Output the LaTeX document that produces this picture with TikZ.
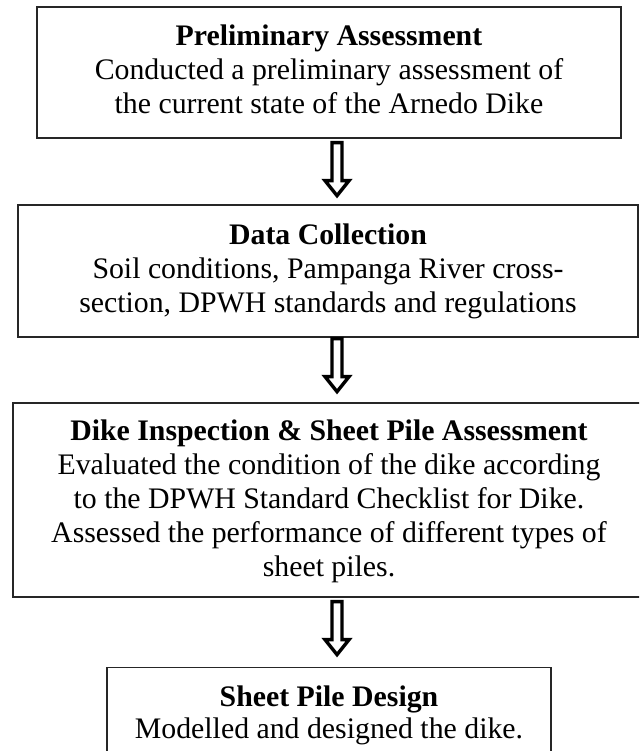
\documentclass[tikz,border=0pt]{standalone}
\usepackage{fontspec}
\setmainfont{Liberation Serif}
\usetikzlibrary{calc}
\tikzset{
  stagebox/.style={draw=black!85, line width=1.3pt, inner sep=0pt},
  stagetext/.style={align=center, inner sep=0pt,
    font=\fontsize{29.8}{34}\selectfont},
  pics/hollowdown/.style={code={
    \draw[line width=3.4pt, fill=white, line join=miter, miter limit=10]
      (-5,0) -- (-5,38) -- (-12,38) -- (0,53) -- (12,38) -- (5,38) -- (5,0) -- cycle;
  }}
}
\begin{document}
\begin{tikzpicture}[x=1pt,y=-1pt]
\useasboundingbox (0,0) rectangle (639,751);
\clip (0,0) rectangle (639,751);
\node[stagebox, minimum width=584pt, minimum height=131pt] (b1) at (329,72.5) {};
\node[stagetext] (t1) at ($(b1.center)+(0,-3)$)
  {\textbf{Preliminary Assessment}\\Conducted a preliminary assessment of\\the current state of the Arnedo Dike};
\node[stagebox, minimum width=620pt, minimum height=132pt] (b2) at (328,271) {};
\node[stagetext] (t2) at (b2.center)
  {\textbf{Data Collection}\\Soil conditions, Pampanga River cross-\\section, DPWH standards and regulations};
\node[stagebox, minimum width=632pt, minimum height=194pt] (b3) at (329,500) {};
\node[stagetext] (t3) at ($(b3.center)+(0,1)$)
  {\textbf{Dike Inspection \& Sheet Pile Assessment}\\Evaluated the condition of the dike according\\to the DPWH Standard Checklist for Dike.\\Assessed the performance of different types of\\sheet piles.};
\node[stagebox, minimum width=444pt, minimum height=140pt, anchor=north] (b4) at (329,667) {};
\node[stagetext, font=\fontsize{29.8}{32}\selectfont, anchor=north] (t4) at ($(b4.north)+(0,19)$)
  {\textbf{Sheet Pile Design}\\Modelled and designed the dike.};
\pic at ($(b1.south)+(8,4)$) {hollowdown};
\pic at ($(b2.south)+(9,1)$) {hollowdown};
\pic at ($(b3.south)+(8,4)$) {hollowdown};
\end{tikzpicture}
\end{document}
